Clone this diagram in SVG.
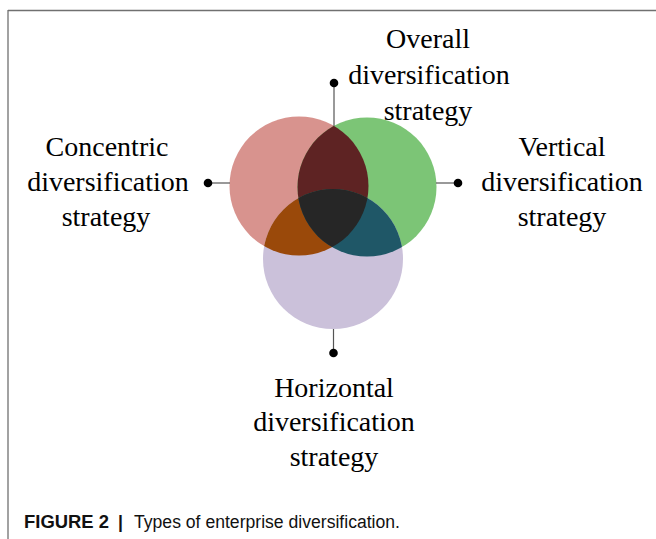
<svg xmlns="http://www.w3.org/2000/svg" width="656" height="539" viewBox="0 0 656 539">
<style>
.lbl{font-family:"Liberation Serif","Times New Roman",serif;font-size:28px;fill:#000;text-anchor:middle}
.cap{font-family:"Liberation Sans",Arial,sans-serif;font-size:17.6px;fill:#111}
.conn line{stroke:#555;stroke-width:1.2}
.conn circle{fill:#000}
</style>
<defs>
<clipPath id="cR"><circle cx="299" cy="186" r="69.5"/></clipPath>
<clipPath id="cG"><circle cx="367" cy="187" r="69.5"/></clipPath>
</defs>
<rect width="656" height="539" fill="#fff"/>
<g id="frame" fill="none" stroke="#707070" stroke-width="1.3">
<line x1="8" y1="10.5" x2="656" y2="10.5"/>
<line x1="8" y1="10" x2="8" y2="539"/>
</g>
<g id="venn">
<circle id="concentric-circle" cx="299" cy="186" r="69.5" fill="#D8938E"/>
<circle id="vertical-circle" cx="367" cy="187" r="69.5" fill="#7CC576"/>
<circle id="horizontal-circle" cx="333" cy="259" r="70" fill="#CBC1DA"/>
<g clip-path="url(#cR)"><circle cx="367" cy="187" r="69.5" fill="#5E2323"/></g>
<g clip-path="url(#cR)"><circle cx="333" cy="259" r="70" fill="#9A490A"/></g>
<g clip-path="url(#cG)"><circle cx="333" cy="259" r="70" fill="#1F5767"/></g>
<g clip-path="url(#cR)"><g clip-path="url(#cG)"><circle cx="333" cy="259" r="70" fill="#262626"/></g></g>
</g>
<g id="connectors" class="conn">
<line x1="334" y1="83" x2="334" y2="126"/>
<circle cx="334" cy="83" r="4.3"/>
<line x1="208" y1="183" x2="230" y2="183"/>
<circle cx="208" cy="183" r="4.3"/>
<line x1="436" y1="183" x2="458" y2="183"/>
<circle cx="458" cy="183" r="4.3"/>
<line x1="333.5" y1="329" x2="333.5" y2="353"/>
<circle cx="333.5" cy="353" r="4.3"/>
</g>
<g id="overall">
<text class="lbl" x="428" y="48">Overall</text>
<text class="lbl" x="429" y="84">diversification</text>
<text class="lbl" x="428" y="120">strategy</text>
</g>
<g id="concentric">
<text class="lbl" x="107" y="156">Concentric</text>
<text class="lbl" x="108" y="191">diversification</text>
<text class="lbl" x="106" y="226">strategy</text>
</g>
<g id="vertical">
<text class="lbl" x="562" y="156">Vertical</text>
<text class="lbl" x="562" y="191">diversification</text>
<text class="lbl" x="562" y="226">strategy</text>
</g>
<g id="horizontal">
<text class="lbl" x="334" y="397">Horizontal</text>
<text class="lbl" x="334" y="431">diversification</text>
<text class="lbl" x="334" y="466">strategy</text>
</g>
<g id="caption">
<text class="cap" x="24" y="528" font-weight="bold" textLength="85" lengthAdjust="spacingAndGlyphs">FIGURE 2</text>
<text class="cap" x="118" y="528" font-weight="bold">|</text>
<text class="cap" x="134" y="528" textLength="266" lengthAdjust="spacingAndGlyphs">Types of enterprise diversification.</text>
</g>
</svg>
